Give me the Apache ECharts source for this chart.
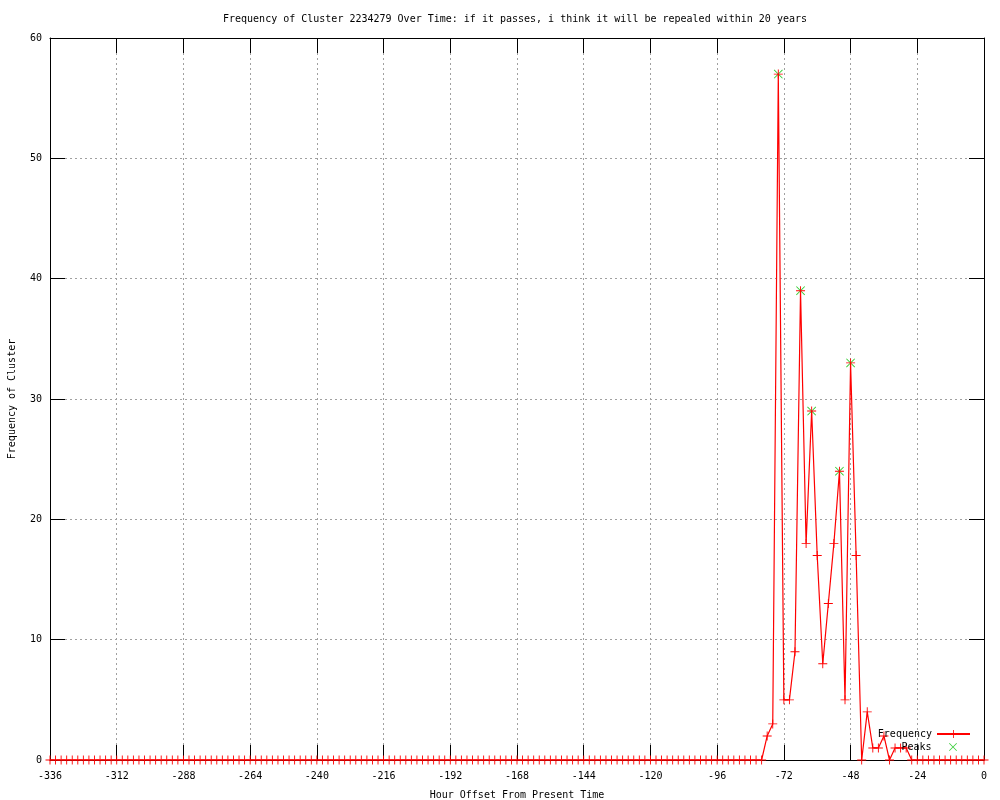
<!DOCTYPE html>
<html>
<head>
<meta charset="utf-8">
<script src="https://cdn.jsdelivr.net/npm/echarts@6/dist/echarts.min.js"></script>
<style>
  html, body { margin: 0; padding: 0; background: #fff; }
  #chart { width: 1000px; height: 800px; }
</style>
</head>
<body>
<div id="chart"></div>
<script>
// hour offsets, one sample every 2 hours
var hours = [
  -336,-334,-332,-330,-328,-326,-324,-322,-320,-318,-316,-314,
  -312,-310,-308,-306,-304,-302,-300,-298,-296,-294,-292,-290,
  -288,-286,-284,-282,-280,-278,-276,-274,-272,-270,-268,-266,
  -264,-262,-260,-258,-256,-254,-252,-250,-248,-246,-244,-242,
  -240,-238,-236,-234,-232,-230,-228,-226,-224,-222,-220,-218,
  -216,-214,-212,-210,-208,-206,-204,-202,-200,-198,-196,-194,
  -192,-190,-188,-186,-184,-182,-180,-178,-176,-174,-172,-170,
  -168,-166,-164,-162,-160,-158,-156,-154,-152,-150,-148,-146,
  -144,-142,-140,-138,-136,-134,-132,-130,-128,-126,-124,-122,
  -120,-118,-116,-114,-112,-110,-108,-106,-104,-102,-100,-98,
  -96,-94,-92,-90,-88,-86,-84,-82,-80,-78,-76,-74,
  -72,-70,-68,-66,-64,-62,-60,-58,-56,-54,-52,-50,
  -48,-46,-44,-42,-40,-38,-36,-34,-32,-30,-28,-26,
  -24,-22,-20,-18,-16,-14,-12,-10,-8,-6,-4,-2,
  0
];
var frequency = [
  0,0,0,0,0,0,0,0,0,0,0,0,
  0,0,0,0,0,0,0,0,0,0,0,0,
  0,0,0,0,0,0,0,0,0,0,0,0,
  0,0,0,0,0,0,0,0,0,0,0,0,
  0,0,0,0,0,0,0,0,0,0,0,0,
  0,0,0,0,0,0,0,0,0,0,0,0,
  0,0,0,0,0,0,0,0,0,0,0,0,
  0,0,0,0,0,0,0,0,0,0,0,0,
  0,0,0,0,0,0,0,0,0,0,0,0,
  0,0,0,0,0,0,0,0,0,0,0,0,
  0,0,0,0,0,0,0,0,0,2,3,57,
  5,5,9,39,18,29,17,8,13,18,24,5,
  33,17,0,4,1,1,2,0,1,1,1,0,
  0,0,0,0,0,0,0,0,0,0,0,0,
  0
];
var peakHours = [-74, -66, -62, -52, -48];
var peakValues = [57, 39, 29, 24, 33];

var freqData = hours.map(function (h, i) { return [h, frequency[i]]; });
var peakData = peakHours.map(function (h, i) { return [h, peakValues[i]]; });

var plusPath = 'path://M4.5,0H5.5V4.5H10V5.5H5.5V10H4.5V5.5H0V4.5H4.5Z';
var crossPath = 'path://M0,0.7L0.7,0L5,4.3L9.3,0L10,0.7L5.7,5L10,9.3L9.3,10L5,5.7L0.7,10L0,9.3L4.3,5Z';
var font = 'DejaVu Sans Mono';

var mychart = echarts.init(document.getElementById('chart'));

var gridLine = { show: true, lineStyle: { color: '#a0a0a0', type: [2, 3], width: 1 } };
var tick = { show: true, inside: true, length: 15, lineStyle: { color: '#000' } };

var option = {
  animation: false,
  backgroundColor: '#fff',
  title: {
    text: 'Frequency of Cluster 2234279 Over Time: if it passes, i think it will be repealed within 20 years',
    left: 218,
    top: 9,
    textStyle: { fontFamily: font, fontSize: 10, fontWeight: 'normal', color: '#000' }
  },
  legend: [{
    data: ['Frequency'],
    right: 24,
    bottom: 56,
    align: 'right',
    itemWidth: 33,
    itemHeight: 10,
    textStyle: { fontFamily: font, fontSize: 10, color: '#000' }
  }, {
    data: ['Peaks'],
    right: 38,
    bottom: 43,
    align: 'right',
    itemWidth: 33,
    itemHeight: 8,
    textStyle: { fontFamily: font, fontSize: 10, color: '#000' }
  }],
  grid: { left: 50, right: 16, top: 38, bottom: 40, containLabel: false, outerBoundsMode: 'none' },
  xAxis: [{
    type: 'value',
    min: -336,
    max: 0,
    interval: 24,
    name: 'Hour Offset From Present Time',
    nameLocation: 'middle',
    nameGap: 30,
    nameTextStyle: { fontFamily: font, fontSize: 10, color: '#000' },
    axisLine: { show: true, onZero: false, lineStyle: { color: '#000' } },
    axisTick: tick,
    axisLabel: { fontFamily: font, fontSize: 10, color: '#000', margin: 11 },
    splitLine: gridLine
  }, {
    type: 'value',
    position: 'top',
    min: -336,
    max: 0,
    interval: 24,
    axisLine: { show: true, onZero: false, lineStyle: { color: '#000' } },
    axisTick: tick,
    axisLabel: { show: false },
    splitLine: { show: false }
  }],
  yAxis: [{
    type: 'value',
    min: 0,
    max: 60,
    interval: 10,
    name: 'Frequency of Cluster',
    nameLocation: 'middle',
    nameGap: 33,
    nameTextStyle: { fontFamily: font, fontSize: 10, color: '#000' },
    axisLine: { show: true, onZero: false, lineStyle: { color: '#000' } },
    axisTick: tick,
    axisLabel: { fontFamily: font, fontSize: 10, color: '#000', margin: 8 },
    splitLine: gridLine
  }, {
    type: 'value',
    position: 'right',
    min: 0,
    max: 60,
    interval: 10,
    axisLine: { show: true, onZero: false, lineStyle: { color: '#000' } },
    axisTick: tick,
    axisLabel: { show: false },
    splitLine: { show: false }
  }],
  series: [{
    name: 'Peaks',
    type: 'scatter',
    data: peakData,
    symbol: crossPath,
    symbolSize: 9,
    itemStyle: { color: '#00c000' },
    z: 2
  }, {
    name: 'Frequency',
    type: 'line',
    data: freqData,
    symbol: plusPath,
    symbolSize: 9,
    showSymbol: true,
    showAllSymbol: true,
    lineStyle: { color: '#ff0000', width: 1.2 },
    itemStyle: { color: '#ff0000' },
    z: 3
  }]
};
mychart.setOption(option);
</script>
</body>
</html>
